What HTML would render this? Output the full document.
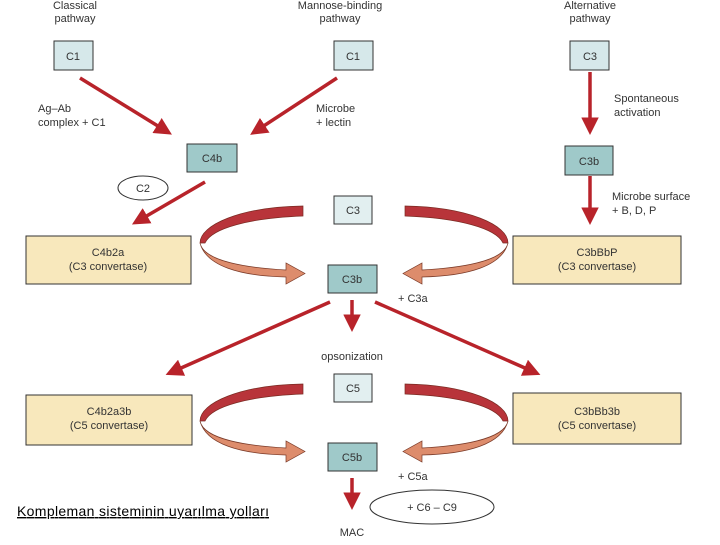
<!DOCTYPE html>
<html><head><meta charset="utf-8"><style>
body{margin:0;background:#fff}
svg text{font-family:"Liberation Sans",sans-serif;font-size:11px;fill:#333}
</style></head><body>
<svg width="720" height="540" viewBox="0 0 720 540" xmlns="http://www.w3.org/2000/svg">
<defs>
<marker id="ah" markerWidth="5" markerHeight="5" refX="3" refY="2.5" orient="auto" markerUnits="strokeWidth">
<path d="M0,0 L5,2.5 L0,5 Z" fill="#b8232a"/></marker>
<g id="loop">
<path d="M303,206 C240,207 200,225 200,243 L205,243 C212,228 250,218 303,216 Z" fill="#b8343a" stroke="#7a2a22" stroke-width="0.7"/>
<path d="M200,243 C204,262 250,268 286,270 L286,263 L305,273.5 L286,284 L286,277 C240,276 206,266 200,243 Z" fill="#dd8c6c" stroke="#7a3a28" stroke-width="0.7"/>
</g>
</defs>
<g text-anchor="middle">
<text x="75" y="9">Classical</text><text x="75" y="22">pathway</text>
<text x="340" y="9">Mannose-binding</text><text x="340" y="22">pathway</text>
<text x="590" y="9">Alternative</text><text x="590" y="22">pathway</text>
</g>
<g fill="#d6e8ea" stroke="#333" stroke-width="1">
<rect x="54" y="41" width="39" height="29"/>
<rect x="334" y="41" width="39" height="29"/>
<rect x="570" y="41" width="39" height="29"/>
<rect x="334" y="196" width="38" height="28" fill="#e2eff0"/>
<rect x="334" y="374" width="38" height="28" fill="#e2eff0"/>
</g>
<g fill="#9fc9c9" stroke="#333" stroke-width="1">
<rect x="187" y="144" width="50" height="28"/>
<rect x="565" y="146" width="48" height="29"/>
<rect x="328" y="265" width="49" height="28"/>
<rect x="328" y="443" width="49" height="28"/>
</g>
<g fill="#f8e8bc" stroke="#333" stroke-width="1">
<rect x="26" y="236" width="165" height="48"/>
<rect x="513" y="236" width="168" height="48"/>
<rect x="26" y="395" width="166" height="50"/>
<rect x="513" y="393" width="168" height="51"/>
</g>
<g text-anchor="middle">
<text x="73" y="60">C1</text><text x="353" y="60">C1</text><text x="590" y="60">C3</text>
<text x="212" y="162">C4b</text><text x="589" y="165">C3b</text>
<text x="353" y="214">C3</text><text x="352" y="283">C3b</text>
<text x="353" y="392">C5</text><text x="352" y="461">C5b</text>
<text x="108" y="256">C4b2a</text><text x="108" y="270">(C3 convertase)</text>
<text x="597" y="256">C3bBbP</text><text x="597" y="270">(C3 convertase)</text>
<text x="109" y="415">C4b2a3b</text><text x="109" y="429">(C5 convertase)</text>
<text x="597" y="415">C3bBb3b</text><text x="597" y="429">(C5 convertase)</text>
<text x="143" y="192">C2</text>
<text x="352" y="360">opsonization</text>
<text x="352" y="536">MAC</text>
<text x="432" y="511">+ C6 – C9</text>
</g>
<text x="38" y="112">Ag–Ab</text><text x="38" y="126">complex + C1</text>
<text x="316" y="112">Microbe</text><text x="316" y="126">+ lectin</text>
<text x="614" y="102">Spontaneous</text><text x="614" y="116">activation</text>
<text x="612" y="200">Microbe surface</text><text x="612" y="214">+ B, D, P</text>
<text x="398" y="302">+ C3a</text>
<text x="398" y="480">+ C5a</text>
<ellipse cx="143" cy="188" rx="25" ry="12" fill="none" stroke="#333"/>
<ellipse cx="432" cy="507" rx="62" ry="17" fill="none" stroke="#333"/>
<g stroke="#b8232a" stroke-width="3.5" fill="none" marker-end="url(#ah)">
<line x1="80" y1="78" x2="166" y2="131"/>
<line x1="337" y1="78" x2="256" y2="131"/>
<line x1="590" y1="72" x2="590" y2="128"/>
<line x1="205" y1="182" x2="138" y2="221"/>
<line x1="590" y1="176" x2="590" y2="218"/>
<line x1="352" y1="300" x2="352" y2="325"/>
<line x1="330" y1="302" x2="172" y2="372"/>
<line x1="375" y1="302" x2="534" y2="372"/>
<line x1="352" y1="478" x2="352" y2="503"/>
</g>
<use href="#loop"/>
<use href="#loop" transform="translate(708,0) scale(-1,1)"/>
<use href="#loop" transform="translate(0,178)"/>
<use href="#loop" transform="translate(708,178) scale(-1,1)"/>
<text x="17" y="516" textLength="252" style="font-size:14px;fill:#000;text-decoration:underline">Kompleman sisteminin uyarılma yolları</text>
</svg>
</body></html>
